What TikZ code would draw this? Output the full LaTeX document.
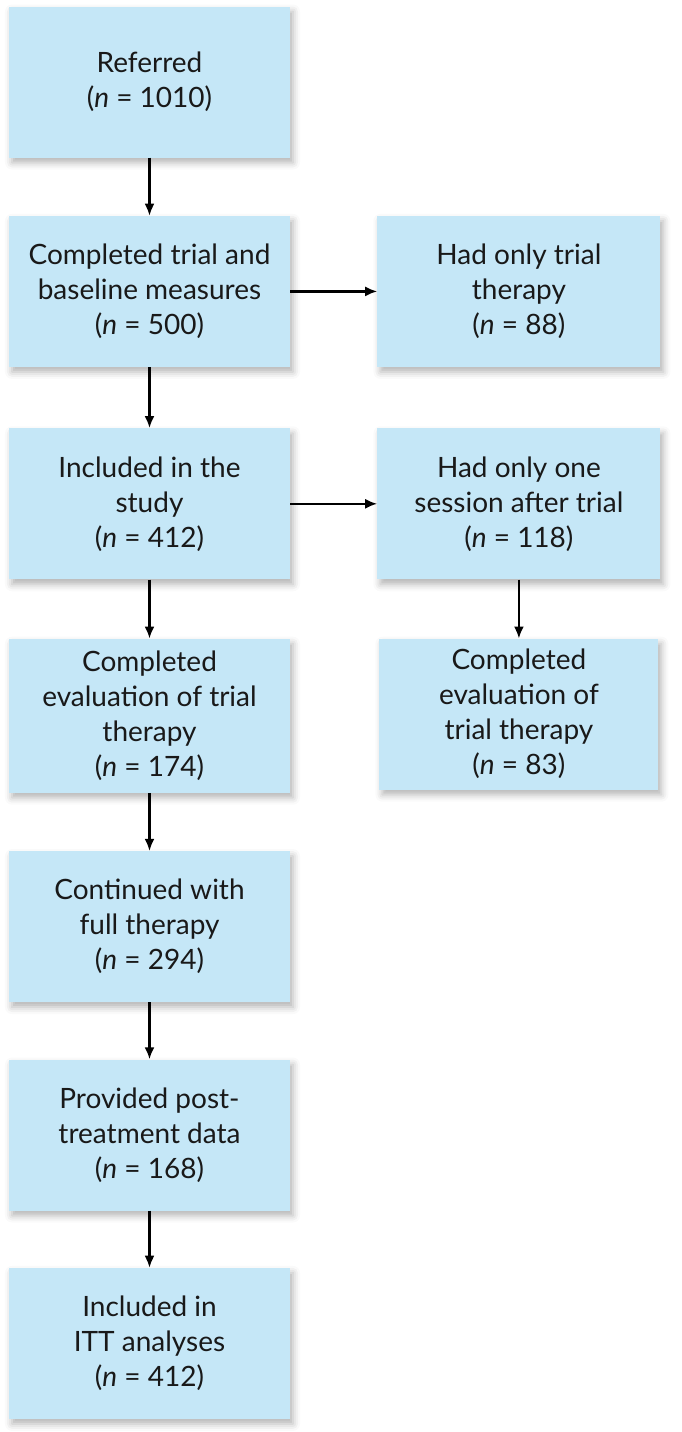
\documentclass[tikz,border=0pt]{standalone}
\usepackage{fontspec}
\setmainfont{Lato}
\usepackage{xcolor}
\usepackage{tikz}
\usetikzlibrary{arrows.meta,positioning,shadows.blur}

\definecolor{boxblue}{RGB}{197,231,247}
\definecolor{boxtext}{RGB}{25,25,25}

\begin{document}
\begin{tikzpicture}[x=1pt,y=1pt,>={Latex[length=12pt,width=10pt]}]
\tikzstyle{every node} = [font = \fontsize{28}{35}\selectfont, text = boxtext]
\tikzstyle{stage} = [rectangle, fill = boxblue, align = center, inner sep = 0pt,
	minimum width = 281pt, minimum height = 151pt,
	blur shadow = {shadow xshift = 3pt, shadow yshift = -5pt, shadow blur radius = 7pt, shadow opacity = 30}]
\tikzstyle{side} = [stage, minimum width = 283pt]
\tikzstyle{flow} = [->, line width = 2.2pt, black]
\useasboundingbox (0,0) rectangle (682,-1432);
		% main column
		\node [stage] (referred) at (149.5,-82) {Referred\\(\textit{n} = 1010)};
		\node [stage, below = 58pt of referred] (baseline) {Completed trial and\\baseline measures\\(\textit{n} = 500)};
		\node [stage, below = 61pt of baseline] (included) {Included in the\\study\\(\textit{n} = 412)};
		\node [stage, below = 59pt of included, minimum height = 154pt] (evalmain) {Completed\\evaluation of trial\\therapy\\(\textit{n} = 174)};
		\node [stage, below = 58pt of evalmain] (fullther) {Continued with\\full therapy\\(\textit{n} = 294)};
		\node [stage, below = 57pt of fullther] (posttreat) {Provided post-\\treatment data\\(\textit{n} = 168)};
		\node [stage, below = 57pt of posttreat] (itt) {Included in\\ITT analyses\\(\textit{n} = 412)};
		% side column
		\node [side, right = 87pt of baseline] (trialonly) {Had only trial\\therapy\\(\textit{n} = 88)};
		\node [side, right = 87pt of included] (onesession) {Had only one\\session after trial\\(\textit{n} = 118)};
		\node [side, below = 59pt of onesession, minimum width = 279pt] (evalside) {Completed\\evaluation of\\trial therapy\\(\textit{n} = 83)};
		% connectors
		\draw [flow] (referred) -- (baseline);
		\draw [flow] (baseline) -- (included);
		\draw [flow] (included) -- (evalmain);
		\draw [flow] (evalmain) -- (fullther);
		\draw [flow] (fullther) -- (posttreat);
		\draw [flow] (posttreat) -- (itt);
		\draw [flow] (baseline) -- (trialonly);
		\draw [flow] (included) -- (onesession);
		\draw [flow] (onesession) -- (evalside);
\end{tikzpicture}
\end{document}
